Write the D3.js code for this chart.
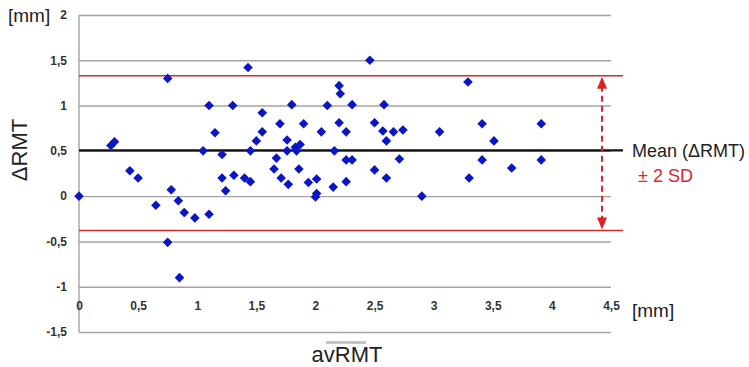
<!DOCTYPE html>
<html>
<head>
<meta charset="utf-8">
<script src="https://cdn.jsdelivr.net/npm/d3@7"></script>
<style>
  body { margin: 0; background: #fff; }
  svg { display: block; font-family: Arial, "Liberation Sans", Helvetica, sans-serif; }
</style>
</head>
<body>
<svg id="chart" width="749" height="367"></svg>
<script>
// Bland-Altman plot, values
const avRMT = [0, 0.27, 0.30, 0.43, 0.50, 0.65, 0.75, 0.75, 0.78, 0.84, 0.85, 0.89, 0.98,
  1.05, 1.10, 1.10, 1.15, 1.21, 1.21, 1.24, 1.30, 1.31, 1.40, 1.43, 1.45, 1.45, 1.50,
  1.55, 1.55, 1.65, 1.67, 1.70, 1.71, 1.76, 1.76, 1.77, 1.80, 1.83, 1.84, 1.87, 1.86,
  1.90, 1.94, 2.01, 2.01, 2.00, 2.05, 2.10, 2.15, 2.16, 2.20, 2.21, 2.20, 2.26, 2.26,
  2.26, 2.31, 2.31, 2.46, 2.50, 2.50, 2.57, 2.58, 2.60, 2.60, 2.66, 2.71, 2.74, 2.90,
  3.05, 3.29, 3.30, 3.41, 3.41, 3.51, 3.66, 3.91, 3.91]
const dRMT = [0, 0.56, 0.60, 0.28, 0.20, -0.10, 1.30, -0.51, 0.07, -0.05, -0.90, -0.18, -0.24,
  0.50, 1.00, -0.20, 0.70, 0.46, 0.20, 0.06, 1.00, 0.23, 0.20, 1.42, 0.50, 0.16, 0.61,
  0.92, 0.71, 0.30, 0.42, 0.80, 0.20, 0.62, 0.50, 0.13, 1.01, 0.54, 0.50, 0.57, 0.30,
  0.80, 0.15, 0.19, 0.03, -0.01, 0.71, 1.00, 0.10, 0.50, 1.22, 1.13, 0.81, 0.71, 0.40,
  0.16, 1.01, 0.40, 1.50, 0.81, 0.29, 0.72, 1.01, 0.61, 0.20, 0.71, 0.41, 0.73, 0.00,
  0.71, 1.26, 0.20, 0.80, 0.40, 0.61, 0.31, 0.80, 0.40]
const meanDiff = 0.505
const upperLimit = 1.33
const lowerLimit = -0.38
const xTicks = [0, 0.5, 1, 1.5, 2, 2.5, 3, 3.5, 4, 4.5]
const yTicks = [-1.5, -1, -0.5, 0, 0.5, 1, 1.5, 2]

const svg = d3.select("#chart")

const x = d3.scaleLinear().domain([0, 4.5]).range([79, 611])
const y = d3.scaleLinear().domain([-1.5, 2]).range([332, 15])

const loc = d3.formatLocale({decimal: ",", thousands: ".", grouping: [3], currency: ["", ""], minus: "-"})
const fmt = loc.format("~g")

// grid + y labels
const yAxis = svg.append("g")
    .attr("transform", `translate(${x(0)},0)`)
    .call(d3.axisLeft(y).tickValues(yTicks).tickFormat(fmt)
      .tickSizeInner(-(x(4.5) - x(0))).tickSizeOuter(0).tickPadding(12))
yAxis.select(".domain").remove()
yAxis.selectAll(".tick line").attr("stroke", "#a3a3a3").attr("stroke-width", 1.4)
yAxis.selectAll(".tick text")
    .attr("fill", "#333").attr("font-size", 12).attr("font-weight", "bold")
    .attr("font-family", "Arial, 'Liberation Sans', sans-serif")

// vertical axis line
svg.append("line")
    .attr("x1", x(0)).attr("x2", x(0))
    .attr("y1", y(2)).attr("y2", y(-1.5))
    .attr("stroke", "#a3a3a3").attr("stroke-width", 1.4)

// x labels sit inside the plot, between -1 and -1.5
const xAxis = svg.append("g")
    .attr("transform", `translate(0,${y(-1.25) - 8})`)
    .call(d3.axisBottom(x).tickValues(xTicks).tickFormat(fmt).tickSize(0).tickPadding(0))
xAxis.select(".domain").remove()
xAxis.selectAll(".tick text")
    .attr("fill", "#333").attr("font-size", 12).attr("font-weight", "bold")
    .attr("font-family", "Arial, 'Liberation Sans', sans-serif")

// limits of agreement and mean
const refLines = [
  {v: upperLimit, c: "#d42a2a", w: 1.6},
  {v: lowerLimit, c: "#d42a2a", w: 1.6},
  {v: meanDiff, c: "#111", w: 2.2}
]
svg.append("g").selectAll("line").data(refLines).join("line")
    .attr("x1", x(0)).attr("x2", x(4.5) + 12)
    .attr("y1", d => y(d.v)).attr("y2", d => y(d.v))
    .attr("stroke", d => d.c).attr("stroke-width", d => d.w)

// points
svg.append("g").selectAll("path").data(avRMT).join("path")
    .attr("d", d3.symbol(d3.symbolSquare, 46))
    .attr("transform", (d, i) => `translate(${x(d)},${y(dRMT[i])}) rotate(45)`)
    .attr("fill", "#0a16c6")

// dashed double arrow for +-2SD
const ax = x(4.5) - 9
svg.append("line")
    .attr("x1", ax).attr("x2", ax)
    .attr("y1", y(upperLimit) + 10).attr("y2", y(lowerLimit) - 10)
    .attr("stroke", "#d42a2a").attr("stroke-width", 2)
    .attr("stroke-dasharray", "6,4")
const head = (tipY, dir) => `M${ax},${tipY} L${ax - 5},${tipY + dir * 12} L${ax + 5},${tipY + dir * 12} Z`
svg.append("path").attr("d", head(y(upperLimit) + 1, 1)).attr("fill", "#e02020")
svg.append("path").attr("d", head(y(lowerLimit) - 1, -1)).attr("fill", "#e02020")

// texts
svg.append("text").attr("x", 8).attr("y", 22)
    .attr("font-size", 19).attr("fill", "#222").text("[mm]")
svg.append("text").attr("x", 632).attr("y", 317)
    .attr("font-size", 19).attr("fill", "#222").text("[mm]")

svg.append("text")
    .attr("transform", "translate(27,150) rotate(-90)")
    .attr("text-anchor", "middle")
    .attr("font-size", 22).attr("fill", "#222").text("ΔRMT")

svg.append("rect").attr("x", 326).attr("y", 341).attr("width", 40).attr("height", 3)
    .attr("fill", "#c4c4c4")
svg.append("text")
    .attr("x", 347).attr("y", 362)
    .attr("text-anchor", "middle")
    .attr("font-size", 22).attr("fill", "#222").text("avRMT")

svg.append("text").attr("x", 632).attr("y", 157)
    .attr("font-size", 18).attr("fill", "#222").text("Mean (ΔRMT)")
svg.append("text").attr("x", 638).attr("y", 182)
    .attr("font-size", 18).attr("fill", "#d42a2a").text("± 2 SD")
</script>
</body>
</html>
